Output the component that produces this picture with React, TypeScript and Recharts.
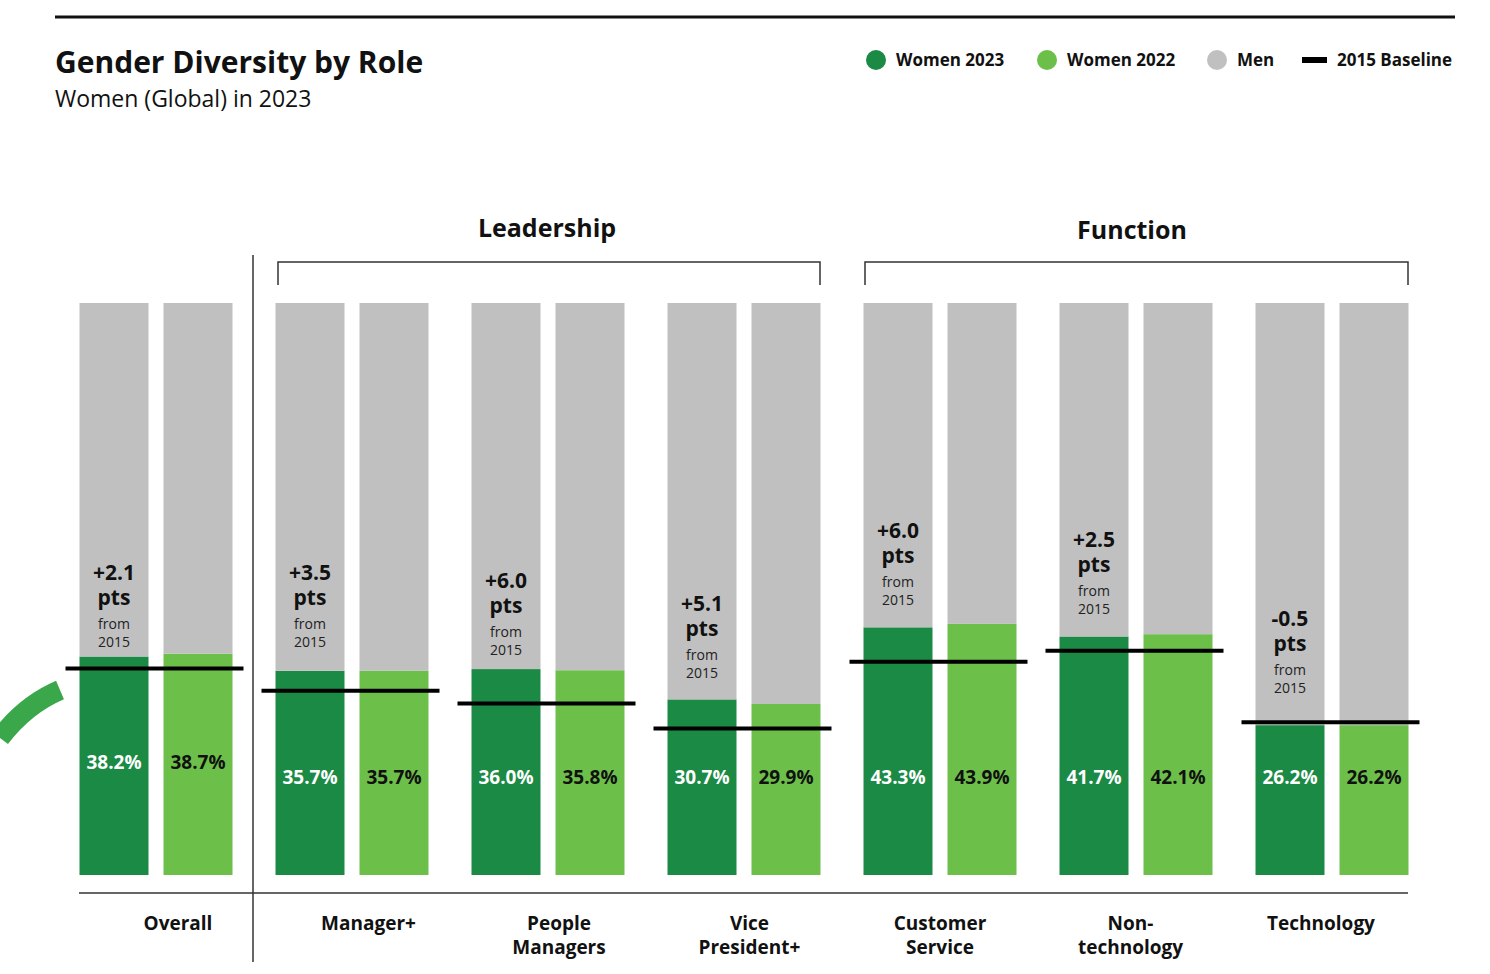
import { BarChart, Bar, XAxis, YAxis } from "recharts";

const categories = ["Overall", "Manager+", "People Managers", "Vice President+", "Customer Service", "Non-technology", "Technology"];
const labelLines = [["Overall"], ["Manager+"], ["People", "Managers"], ["Vice", "President+"], ["Customer", "Service"], ["Non-", "technology"], ["Technology"]];
const women2023 = [38.2, 35.7, 36.0, 30.7, 43.3, 41.7, 26.2];
const women2022 = [38.7, 35.7, 35.8, 29.9, 43.9, 42.1, 26.2];
const changeFrom2015 = ["+2.1", "+3.5", "+6.0", "+5.1", "+6.0", "+2.5", "-0.5"];
const baseline2015 = [36.1, 32.2, 30.0, 25.6, 37.3, 39.2, 26.7];

const DARK = "#1a8a44";
const LIGHT = "#6cc04a";
const GRAY = "#c0c0c0";
const FONT = "'Open Sans', sans-serif";
const annotationGap = [9, 24, 14, 21, 22, 22, 32];

const data = categories.map((c, i) => ({
  name: c,
  w23: women2023[i],
  m23: +(100 - women2023[i]).toFixed(1),
  w22: women2022[i],
  m22: +(100 - women2022[i]).toFixed(1),
  change: changeFrom2015[i],
  base: baseline2015[i],
  idx: i,
}));

const W23Shape = (p: any) => {
  const { x, y, width, height, payload } = p;
  const zero = y + height;
  return (
    <g>
      <rect x={x} y={y} width={width} height={height} fill={DARK} />
      <text x={x + width / 2} y={zero - (payload.idx === 0 ? 106 : 91)} textAnchor="middle" fill="#fff" fontWeight={700} fontSize={19} fontFamily={FONT}>{payload.w23.toFixed(1)}%</text>
    </g>
  );
};

// men bar above 2023 women: annotation sits just above the women bar top
const M23Shape = (p: any) => {
  const { x, y, width, height, payload } = p;
  const cx = x + width / 2;
  const t = y + height - annotationGap[payload.idx];
  return (
    <g>
      <rect x={x} y={y} width={width} height={height} fill={GRAY} />
      <text x={cx} y={t - 67} textAnchor="middle" fill="#111" fontWeight={700} fontSize={21} fontFamily={FONT}>{payload.change}</text>
      <text x={cx} y={t - 42} textAnchor="middle" fill="#111" fontWeight={700} fontSize={21} fontFamily={FONT}>pts</text>
      <text x={cx} y={t - 18} textAnchor="middle" fill="#222" fontSize={14} fontFamily={FONT}>from</text>
      <text x={cx} y={t} textAnchor="middle" fill="#222" fontSize={14} fontFamily={FONT}>2015</text>
    </g>
  );
};

const W22Shape = (p: any) => {
  const { x, y, width, height, payload } = p;
  return (
    <g>
      <rect x={x} y={y} width={width} height={height} fill={LIGHT} />
      <text x={x + width / 2} y={y + height - (payload.idx === 0 ? 106 : 91)} textAnchor="middle" fill="#111" fontWeight={700} fontSize={19} fontFamily={FONT}>{payload.w22.toFixed(1)}%</text>
    </g>
  );
};

const M22Shape = (p: any) => {
  const { x, y, width, height, payload } = p;
  const ppu = height / payload.m22;
  const by = y + (100 - payload.base) * ppu;
  return (
    <g>
      <rect x={x} y={y} width={width} height={height} fill={GRAY} />
      <line x1={x - width - 29} x2={x + width + 11} y1={by} y2={by} stroke="#000" strokeWidth={4} />
    </g>
  );
};

const legend = [
  { label: "Women 2023", color: DARK, x: 876 },
  { label: "Women 2022", color: LIGHT, x: 1047 },
  { label: "Men", color: GRAY, x: 1217 },
];

export default function App() {
  return (
    <div style={{ position: "absolute", left: 0, top: 0, width: 1490, height: 974, background: "#fff" }}>
      <svg width={1490} height={974} style={{ position: "absolute", left: 0, top: 0 }} fontFamily={FONT}>
        <line x1={55} x2={1455} y1={17} y2={17} stroke="#111" strokeWidth={3} />
        <text x={55} y={73} fontSize={30} fontWeight={700} fill="#111">Gender Diversity by Role</text>
        <text x={55} y={107} fontSize={23} fill="#111">Women (Global) in 2023</text>
        {legend.map((l) => (
          <g key={l.label}>
            <circle cx={l.x} cy={60} r={10} fill={l.color} />
            <text x={l.x + 20} y={66} fontSize={17} fontWeight={700} fill="#111">{l.label}</text>
          </g>
        ))}
        <rect x={1302} y={57} width={25} height={6} fill="#000" />
        <text x={1337} y={66} fontSize={17} fontWeight={700} fill="#111">2015 Baseline</text>
        <text x={547} y={237} textAnchor="middle" fontSize={25} fontWeight={700} fill="#111">Leadership</text>
        <text x={1132} y={239} textAnchor="middle" fontSize={25} fontWeight={700} fill="#111">Function</text>
        <path d="M278 285 V262 H820 V285" fill="none" stroke="#333" strokeWidth={1.5} />
        <path d="M865 285 V262 H1408 V285" fill="none" stroke="#333" strokeWidth={1.5} />
        <line x1={253} x2={253} y1={255} y2={962} stroke="#333" strokeWidth={1.5} />
        <line x1={79} x2={1408} y1={893} y2={893} stroke="#333" strokeWidth={1.5} />
        <path d="M0 738 Q25 705 60 690" fill="none" stroke="#3aa84a" strokeWidth={20} />
        {labelLines.map((lines, i) => (
          <text key={i} x={178 + i * 190.5} y={930} textAnchor="middle" fontSize={19} fontWeight={700} fill="#111">
            {lines.map((t, j) => (
              <tspan key={j} x={178 + i * 190.5} dy={j === 0 ? 0 : 24}>{t}</tspan>
            ))}
          </text>
        ))}
      </svg>
      <div style={{ position: "absolute", left: 0, top: 0 }}>
        <BarChart width={1490} height={974} data={data} margin={{ top: 303, bottom: 99, left: 57.5, right: 60.5 }}
          barSize={69} barGap={15} barCategoryGap={21.5}>
          <XAxis dataKey="name" hide />
          <YAxis hide domain={[0, 100]} />
          <Bar dataKey="w23" stackId="a" isAnimationActive={false} shape={W23Shape} />
          <Bar dataKey="m23" stackId="a" isAnimationActive={false} shape={M23Shape} />
          <Bar dataKey="w22" stackId="b" isAnimationActive={false} shape={W22Shape} />
          <Bar dataKey="m22" stackId="b" isAnimationActive={false} shape={M22Shape} />
        </BarChart>
      </div>
    </div>
  );
}
